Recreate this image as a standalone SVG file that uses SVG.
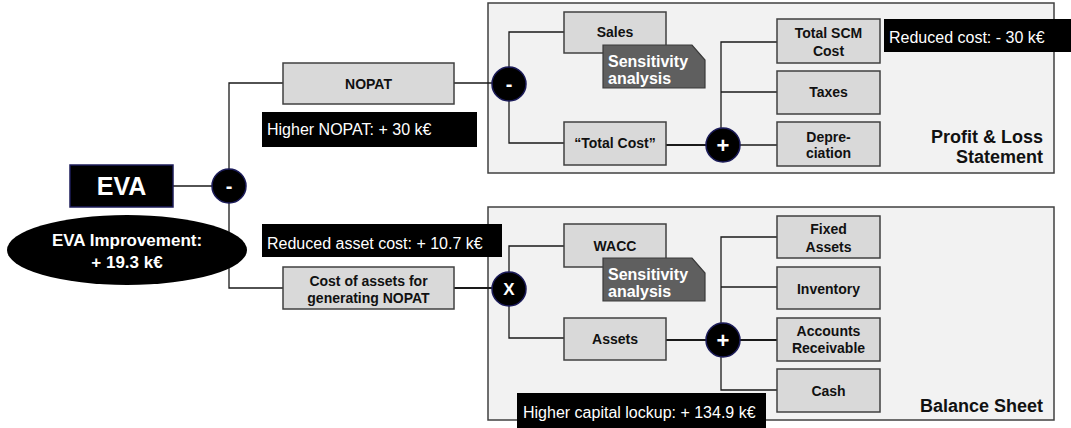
<svg xmlns="http://www.w3.org/2000/svg" width="1071" height="428" viewBox="0 0 1071 428">
  <style>
    .panel { fill: #f2f2f2; stroke: #404040; stroke-width: 1.5; }
    .box { fill: #d9d9d9; stroke: #404040; stroke-width: 1.5; }
    .note { fill: #5f5f5f; stroke: #3a3a3a; stroke-width: 1.2; }
    .op { fill: #000; stroke: #1c1c5a; stroke-width: 1.5; }
    .tag { fill: #000; }
    .wire { fill: none; stroke: #1a1a1a; stroke-width: 1.3; }
    .wire.thick { stroke-width: 2; }
    .bt { font-family: "Liberation Sans", Arial, sans-serif; font-weight: bold; font-size: 14px; fill: #111; text-anchor: middle; }
    .nt { font-family: "Liberation Sans", Arial, sans-serif; font-weight: bold; font-size: 16px; fill: #fff; }
    .tt { font-family: "Liberation Sans", Arial, sans-serif; font-size: 16px; fill: #fff; }
    .pt { font-family: "Liberation Sans", Arial, sans-serif; font-weight: bold; font-size: 18px; fill: #111; text-anchor: end; }
    .ot { font-family: "Liberation Sans", Arial, sans-serif; font-weight: bold; fill: #fff; text-anchor: middle; }
  </style>

  <!-- statement panels -->
  <g id="panel-pl">
    <rect class="panel" x="488" y="3" width="566" height="170"/>
    <text class="pt" x="1043" y="143">Profit &amp; Loss</text>
    <text class="pt" x="1043" y="163">Statement</text>
  </g>
  <g id="panel-bs">
    <rect class="panel" x="488" y="207" width="566" height="213"/>
    <text class="pt" x="1043" y="412">Balance Sheet</text>
  </g>

  <!-- connectors -->
  <g id="connectors">
    <line class="wire" x1="173" y1="186" x2="212" y2="186"/>
    <polyline class="wire" points="283,83 229,83 229,288 283,288"/>
    <line class="wire" x1="454" y1="83" x2="509" y2="83"/>
    <line class="wire thick" x1="454" y1="288" x2="509" y2="288"/>
    <polyline class="wire" points="564,32 509,32 509,143 564,143"/>
    <line class="wire thick" x1="666" y1="145" x2="723" y2="145"/>
    <line class="wire" x1="723" y1="145" x2="777" y2="145"/>
    <polyline class="wire" points="777,42 721,42 721,145"/>
    <line class="wire" x1="721" y1="92" x2="777" y2="92"/>
    <polyline class="wire" points="564,246 509,246 509,338 564,338"/>
    <line class="wire thick" x1="666" y1="340" x2="777" y2="340"/>
    <polyline class="wire" points="777,237 721,237 721,390 777,390"/>
    <line class="wire" x1="721" y1="287" x2="777" y2="287"/>
  </g>

  <!-- left side -->
  <g id="eva">
    <rect x="70" y="165" width="103" height="42" fill="#000" stroke="#1c1c5a" stroke-width="1.5"/>
    <text class="ot" x="121.5" y="195" font-size="25">EVA</text>
  </g>
  <g id="eva-improvement">
    <ellipse cx="127" cy="250" rx="120" ry="35" fill="#000"/>
    <text class="ot" x="127" y="246" font-size="17">EVA Improvement:</text>
    <text class="ot" x="127" y="268" font-size="17">+ 19.3 k€</text>
  </g>
  <g id="op-eva">
    <circle class="op" cx="229" cy="186" r="17"/>
    <text class="ot" x="229" y="193" font-size="20">-</text>
  </g>

  <g id="nopat">
    <rect class="box" x="283" y="63" width="171" height="41"/>
    <text class="bt" x="368.5" y="89">NOPAT</text>
  </g>
  <g id="tag-nopat">
    <rect class="tag" x="262" y="112" width="215" height="35"/>
    <text class="tt" x="267" y="135">Higher NOPAT: + 30 k€</text>
  </g>
  <g id="tag-asset-cost">
    <rect class="tag" x="262" y="224" width="240" height="33"/>
    <text class="tt" x="267" y="249">Reduced asset cost: + 10.7 k€</text>
  </g>
  <g id="cost-of-assets">
    <rect class="box" x="283" y="267" width="171" height="42"/>
    <text class="bt" x="368.5" y="286">Cost of assets for</text>
    <text class="bt" x="368.5" y="303">generating NOPAT</text>
  </g>

  <!-- profit & loss tree -->
  <g id="op-nopat">
    <circle class="op" cx="509" cy="84" r="17"/>
    <text class="ot" x="509" y="91" font-size="20">-</text>
  </g>
  <g id="sales">
    <rect class="box" x="564" y="12" width="102" height="41"/>
    <text class="bt" x="615" y="37">Sales</text>
  </g>
  <g id="sens-sales">
    <path class="note" d="M603,45 H692 L705,60 V88 H603 Z"/>
    <text class="nt" x="608" y="67">Sensitivity</text>
    <text class="nt" x="608" y="84">analysis</text>
  </g>
  <g id="total-cost">
    <rect class="box" x="564" y="122" width="102" height="43"/>
    <text class="bt" x="615" y="148">“Total Cost”</text>
  </g>
  <g id="op-total-cost">
    <circle class="op" cx="723" cy="145" r="17"/>
    <text class="ot" x="723" y="152.5" font-size="22">+</text>
  </g>
  <g id="total-scm-cost">
    <rect class="box" x="777" y="19" width="103" height="44"/>
    <text class="bt" x="828.5" y="38">Total SCM</text>
    <text class="bt" x="828.5" y="56">Cost</text>
  </g>
  <g id="tag-scm">
    <rect class="tag" x="884" y="19" width="187" height="33"/>
    <text class="tt" x="889" y="43">Reduced cost: - 30 k€</text>
  </g>
  <g id="taxes">
    <rect class="box" x="777" y="71" width="103" height="43"/>
    <text class="bt" x="828.5" y="97">Taxes</text>
  </g>
  <g id="depreciation">
    <rect class="box" x="777" y="122" width="103" height="44"/>
    <text class="bt" x="828.5" y="142">Depre-</text>
    <text class="bt" x="828.5" y="158">ciation</text>
  </g>

  <!-- balance sheet tree -->
  <g id="op-assets-cost">
    <circle class="op" cx="509" cy="289" r="17"/>
    <text class="ot" x="509" y="295" font-size="17">X</text>
  </g>
  <g id="wacc">
    <rect class="box" x="564" y="224" width="102" height="43"/>
    <text class="bt" x="615" y="251">WACC</text>
  </g>
  <g id="sens-wacc">
    <path class="note" d="M603,258 H692 L705,273 V301 H603 Z"/>
    <text class="nt" x="608" y="280">Sensitivity</text>
    <text class="nt" x="608" y="297">analysis</text>
  </g>
  <g id="assets">
    <rect class="box" x="564" y="318" width="102" height="42"/>
    <text class="bt" x="615" y="344">Assets</text>
  </g>
  <g id="op-assets">
    <circle class="op" cx="723" cy="340" r="17"/>
    <text class="ot" x="723" y="347.5" font-size="22">+</text>
  </g>
  <g id="fixed-assets">
    <rect class="box" x="777" y="216" width="103" height="42"/>
    <text class="bt" x="828.5" y="234">Fixed</text>
    <text class="bt" x="828.5" y="252">Assets</text>
  </g>
  <g id="inventory">
    <rect class="box" x="777" y="267" width="103" height="42"/>
    <text class="bt" x="828.5" y="294">Inventory</text>
  </g>
  <g id="accounts-receivable">
    <rect class="box" x="777" y="318" width="103" height="43"/>
    <text class="bt" x="828.5" y="336">Accounts</text>
    <text class="bt" x="828.5" y="353">Receivable</text>
  </g>
  <g id="cash">
    <rect class="box" x="777" y="369" width="103" height="43"/>
    <text class="bt" x="828.5" y="396">Cash</text>
  </g>
  <g id="tag-capital">
    <rect class="tag" x="517" y="393" width="249" height="35"/>
    <text class="tt" x="523" y="418">Higher capital lockup: + 134.9 k€</text>
  </g>
</svg>
